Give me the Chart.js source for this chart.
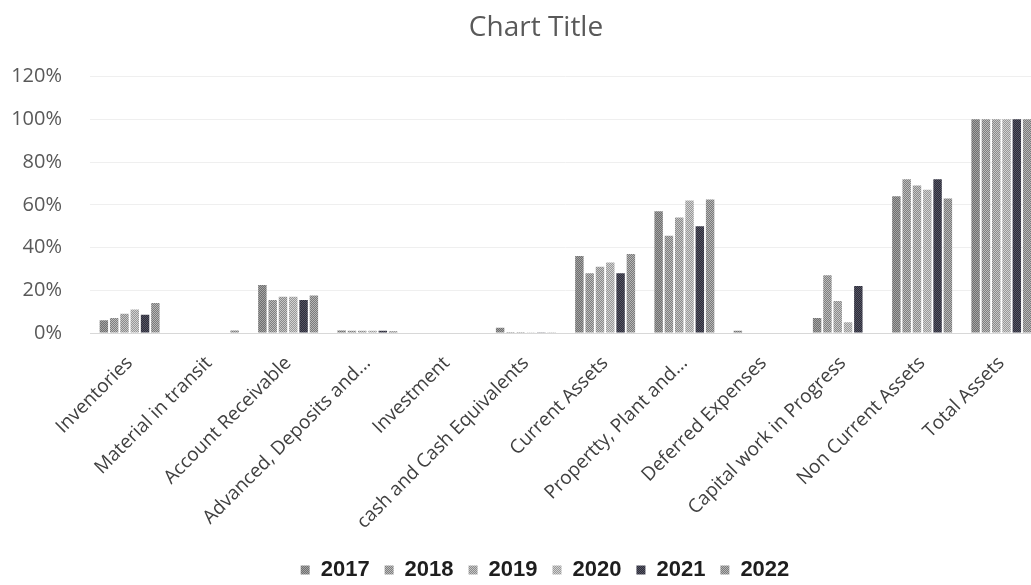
<!DOCTYPE html>
<html>
<head>
<meta charset="utf-8">
<title>Chart Title</title>
<script src="https://cdn.jsdelivr.net/npm/chart.js@4/dist/chart.umd.min.js"></script>
<style>
  html, body { margin: 0; padding: 0; background: #fff; overflow: hidden; }
  #wrap { width: 1080px; height: 585px; position: relative; }
</style>
</head>
<body>
<div id="wrap"><canvas id="chart"></canvas></div>
<script>
// asset line items
const categories = [
    'Inventories',
    'Material in transit',
    'Account Receivable',
    'Advanced, Deposits and...',
    'Investment',
    'cash and Cash Equivalents',
    'Current Assets',
    'Propertty, Plant and...',
    'Deferred Expenses',
    'Capital work in Progress',
    'Non Current Assets',
    'Total Assets'
];

// share of total assets per year, in percent
const years = ['2017', '2018', '2019', '2020', '2021', '2022'];
const y2017 = [6, 0.2, 22.5, 1.2, 0.2, 2.5, 36, 57, 1, 7, 64, 100];
const y2018 = [7, 0.2, 15.5, 1, 0.2, 0.5, 28, 45.5, 0.2, 27, 72, 100];
const y2019 = [9, 0.2, 17, 1, 0.2, 0.5, 31, 54, 0.2, 15, 69, 100];
const y2020 = [11, 0.2, 17, 1, 0.2, 0.3, 33, 62, 0.2, 5, 67, 100];
const y2021 = [8.5, 0.2, 15.5, 1, 0.2, 0.3, 28, 50, 0.2, 22, 72, 100];
const y2022 = [14, 1.2, 17.5, 0.8, 0.2, 0.3, 37, 62.5, 0.2, 0, 63, 100];

const yTicks = [0, 20, 40, 60, 80, 100, 120];

// halftone-ish fills, two grays in a checker
function dither(dark, light) {
    const c = document.createElement('canvas');
    c.width = 4;
    c.height = 4;
    const g = c.getContext('2d');
    g.fillStyle = dark;
    g.fillRect(0, 0, 4, 4);
    g.fillStyle = light;
    for (let y = 0; y < 4; y++) {
        for (let x = 0; x < 4; x++) {
            if ((x + y) % 2 === 0) g.fillRect(x, y, 1, 1);
        }
    }
    return g.createPattern(c, 'repeat');
}

const fills = [
    dither('#6f6f6f', '#a4a4a4'),
    dither('#7e7e7e', '#bcbcbc'),
    dither('#8a8a8a', '#c6c6c6'),
    dither('#989898', '#d2d2d2'),
    dither('#2c2c3a', '#575764'),
    dither('#7a7a7a', '#b6b6b6')
];

const series = [y2017, y2018, y2019, y2020, y2021, y2022];

// title and legend sit a bit right of the plot centre
const shiftBlocks = {
    id: 'shiftBlocks',
    afterLayout(chart) {
        if (chart.titleBlock) chart.titleBlock.right += 31;
        const lg = chart.legend;
        if (lg) {
            lg.right += 49;
            const dy = 544 - lg.top;
            lg.top += dy;
            lg.bottom += dy;
        }
    }
};

new Chart(document.getElementById('chart'), {
    type: 'bar',
    data: {
        labels: categories,
        datasets: years.map((yr, i) => ({
            label: yr,
            data: series[i],
            backgroundColor: fills[i],
            borderWidth: 0,
            categoryPercentage: 0.78,
            barPercentage: 0.82
        }))
    },
    options: {
        responsive: true,
        maintainAspectRatio: false,
        animation: false,
        layout: {
            padding: { left: 0, right: 39, top: 0, bottom: 0 }
        },
        plugins: {
            title: {
                display: true,
                text: 'Chart Title',
                color: '#595959',
                font: { family: 'Open Sans', size: 28, weight: 'normal' },
                padding: { top: 11, bottom: 32 }
            },
            legend: {
                position: 'bottom',
                labels: {
                    boxWidth: 9,
                    boxHeight: 9,
                    padding: 15,
                    color: '#1e1e1e',
                    font: { family: 'Liberation Sans', size: 22, weight: 'bold' }
                }
            },
            tooltip: { enabled: false }
        },
        scales: {
            x: {
                grid: { display: false, drawTicks: false },
                border: { display: true, color: '#d8d8d8' },
                ticks: {
                    color: '#404040',
                    font: { family: 'Open Sans', size: 19 },
                    minRotation: 45,
                    maxRotation: 45,
                    autoSkip: false,
                    padding: 19
                },
                afterFit: (s) => {
                    s.height = s.chart.height - s.chart.legend.height - 333;
                }
            },
            y: {
                min: 0,
                max: 120,
                afterBuildTicks: (s) => {
                    s.ticks = yTicks.map(v => ({ value: v }));
                },
                grid: { color: '#efefef', drawTicks: false },
                border: { display: false },
                ticks: {
                    color: '#595959',
                    font: { family: 'Open Sans', size: 20 },
                    padding: 28,
                    callback: (v) => v + '%'
                },
                afterFit: (s) => {
                    s.width = 90;
                }
            }
        }
    },
    plugins: [shiftBlocks]
});
</script>
</body>
</html>
